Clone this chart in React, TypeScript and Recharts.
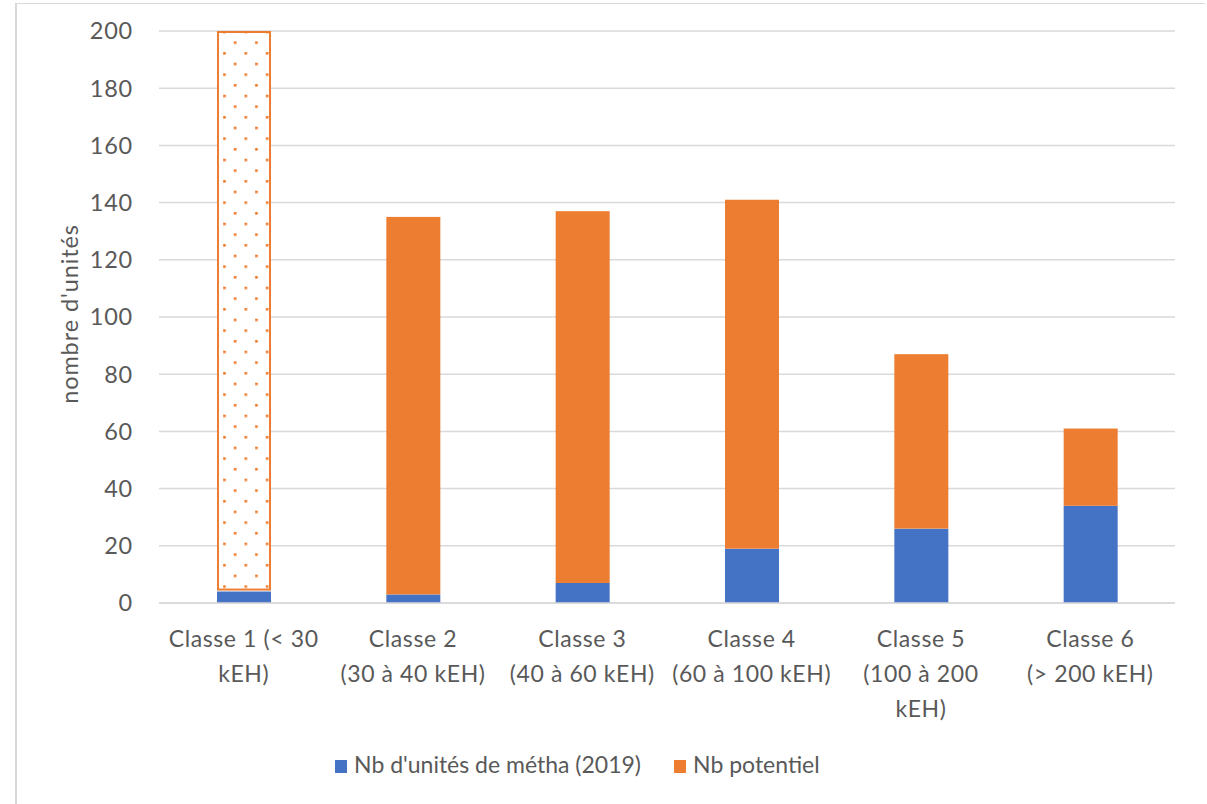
import React from "react";
import { BarChart, Bar, XAxis, YAxis, CartesianGrid, Legend, Cell } from "recharts";

// Size classes of wastewater plants (kEH = thousand population equivalent)
const categories = ["Classe 1", "Classe 2", "Classe 3", "Classe 4", "Classe 5", "Classe 6"];
const categoryLabelLines = [
  ["Classe 1 (< 30", "kEH)"],
  ["Classe 2", "(30 à 40 kEH)"],
  ["Classe 3", "(40 à 60 kEH)"],
  ["Classe 4", "(60 à 100 kEH)"],
  ["Classe 5", "(100 à 200", "kEH)"],
  ["Classe 6", "(> 200 kEH)"],
];

// Existing anaerobic digestion units in 2019
const existingUnits = [4, 3, 7, 19, 26, 34];
// Additional potential units
const potentialUnits = [196, 132, 130, 122, 61, 27];

const yTicks = [0, 20, 40, 60, 80, 100, 120, 140, 160, 180, 200];

const seriesNames = ["Nb d'unités de métha (2019)", "Nb potentiel"];

const BLUE = "#4472C4";
const ORANGE = "#ED7D31";
const TEXT = "#595959";
const GRID = "#d9d9d9";
const FONT = "Lato, 'Open Sans', sans-serif";

const data = categories.map((c, i) => ({
  name: c,
  existing: existingUnits[i],
  potential: potentialUnits[i],
}));

const CategoryTick = (props: any) => {
  const { x, y, index } = props;
  const lines = categoryLabelLines[index] || [];
  return (
    <text
      x={x}
      y={y}
      textAnchor="middle"
      fill={TEXT}
      fontSize={23}
      fontFamily={FONT}
      letterSpacing={0.6}
    >
      {lines.map((l, i) => (
        <tspan key={i} x={x} y={y + 44 + i * 35}>
          {l}
        </tspan>
      ))}
    </text>
  );
};

// First class is shown with an outlined, dotted bar; the others are solid
const PotentialShape = (props: any) => {
  const { x, y, width, height, index } = props;
  if (index === 0) {
    return (
      <rect
        x={x + 1}
        y={y + 1}
        width={width - 2}
        height={height - 3}
        fill="url(#dotPattern)"
        stroke={ORANGE}
        strokeWidth={2}
      />
    );
  }
  return <rect x={x} y={y} width={width} height={height} fill={ORANGE} />;
};

const YLabel = (props: any) => {
  const { viewBox } = props;
  const cx = viewBox.x + 54;
  const cy = viewBox.y + viewBox.height / 2 - 3;
  return (
    <text
      x={cx}
      y={cy}
      transform={`rotate(-90 ${cx} ${cy})`}
      textAnchor="middle"
      dominantBaseline="central"
      fill={TEXT}
      fontSize={23.5}
      fontFamily={FONT}
      letterSpacing={0.9}
    >
      nombre d'unités
    </text>
  );
};

const LegendContent = () => {
  const colors = [BLUE, ORANGE];
  return (
    <div
      style={{
        height: 40,
        display: "flex",
        alignItems: "center",
        paddingLeft: 320,
        fontFamily: FONT,
        fontSize: 23,
        color: TEXT,
        letterSpacing: 0,
      }}
    >
      {seriesNames.map((n, i) => (
        <div
          key={n}
          style={{ display: "flex", alignItems: "center", width: i === 0 ? 339 : "auto" }}
        >
          <span
            style={{
              display: "inline-block",
              width: 12,
              height: 13,
              background: colors[i],
              marginRight: 7,
              marginTop: 4,
            }}
          />
          <span>{n}</span>
        </div>
      ))}
    </div>
  );
};

export default function App() {
  return (
    <div style={{ position: "absolute", left: 0, top: 0, width: 1207, height: 804, background: "#fff" }}>
      <div
        style={{
          position: "absolute",
          left: 15,
          top: 3,
          width: 1188,
          height: 810,
          borderLeft: `2px solid ${GRID}`,
          borderTop: `1px solid ${GRID}`,
        }}
      />
      <div style={{ position: "absolute", left: 0, top: 0 }}>
        <BarChart
          width={1207}
          height={804}
          data={data}
          margin={{ top: 31, right: 32, bottom: 20, left: 15 }}
        >
          <defs>
            <pattern
              id="dotPattern"
              patternUnits="userSpaceOnUse"
              x={-0.8}
              y={-1.3}
              width={21.33}
              height={21.33}
            >
              <rect x={0} y={0} width={21.33} height={21.33} fill="#fff" />
              <rect x={0} y={0} width={2.6} height={2.6} fill={ORANGE} />
              <rect x={10.67} y={10.67} width={2.6} height={2.6} fill={ORANGE} />
            </pattern>
          </defs>
          <CartesianGrid vertical={false} stroke={GRID} strokeWidth={1.5} />
          <XAxis
            dataKey="name"
            height={141}
            tickLine={false}
            tickSize={0}
            tickMargin={0}
            axisLine={{ stroke: GRID, strokeWidth: 1.5 }}
            tick={<CategoryTick />}
            interval={0}
          />
          <YAxis
            width={144}
            domain={[0, 200]}
            ticks={yTicks}
            interval={0}
            axisLine={false}
            tickLine={false}
            tickSize={0}
            tickMargin={26}
            tick={{ fill: TEXT, fontSize: 23.5, fontFamily: FONT, letterSpacing: 0.8 }}
            label={<YLabel />}
          />
          <Legend verticalAlign="bottom" content={<LegendContent />} />
          <Bar
            dataKey="existing"
            name={seriesNames[0]}
            stackId="a"
            fill={BLUE}
            barSize={54}
            isAnimationActive={false}
          />
          <Bar
            dataKey="potential"
            name={seriesNames[1]}
            stackId="a"
            fill={ORANGE}
            barSize={54}
            shape={<PotentialShape />}
            isAnimationActive={false}
          >
            {data.map((d) => (
              <Cell key={d.name} fill={ORANGE} />
            ))}
          </Bar>
        </BarChart>
      </div>
    </div>
  );
}
